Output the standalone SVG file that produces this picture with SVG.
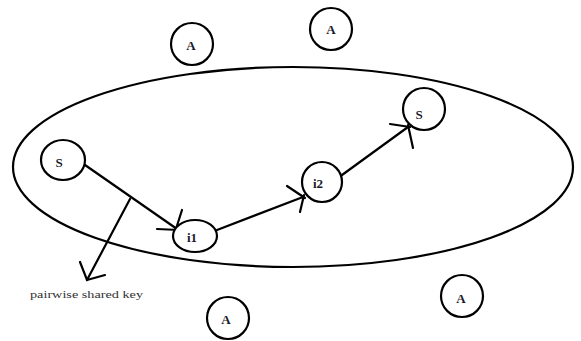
<svg xmlns="http://www.w3.org/2000/svg" width="581" height="341" viewBox="0 0 581 341">
  <style>
    .node { fill: #fff; stroke: #000; stroke-width: 2.2; }
    .lbl { font-family: "Liberation Serif", "Times New Roman", serif; font-weight: bold; font-size: 13px; fill: #1a1a2a; text-anchor: middle; dominant-baseline: central; }
    .edge { fill: none; stroke: #000; stroke-width: 2.2; stroke-linecap: round; }
    .note { font-family: "Liberation Serif", "Times New Roman", serif; font-size: 11px; fill: #333; }
  </style>
  <rect width="581" height="341" fill="#fff"/>

  <!-- network boundary -->
  <ellipse id="region" cx="293" cy="167" rx="280" ry="100" fill="none" stroke="#000" stroke-width="2.2"/>

  <!-- connectors -->
  <g id="connectors">
    <!-- S -> i1 -->
    <line class="edge" x1="85" y1="165" x2="177" y2="229"/>
    <path class="edge" d="M157,229 L179,230 M182,210 L175,232"/>
    <!-- i1 -> i2 -->
    <line class="edge" x1="217" y1="230" x2="303" y2="197"/>
    <path class="edge" d="M287,186 L305,198 M300,212 L304,195"/>
    <!-- i2 -> S -->
    <line class="edge" x1="342" y1="175" x2="408" y2="127"/>
    <path class="edge" d="M390,124 L410,127 M413,148 L408,125"/>
    <!-- shared key pointer -->
    <line class="edge" x1="130" y1="199" x2="87" y2="280"/>
    <path class="edge" d="M80,262 L87,280 L105,275"/>
  </g>

  <g id="node-a1"><circle class="node" cx="192" cy="44" r="21"/><text class="lbl" x="191" y="45">A</text></g>
  <g id="node-a2"><circle class="node" cx="331" cy="29" r="21"/><text class="lbl" x="331" y="29">A</text></g>
  <g id="node-s-src"><ellipse class="node" cx="63" cy="160" rx="22" ry="20"/><text class="lbl" x="59" y="162">S</text></g>
  <g id="node-i1"><ellipse class="node" cx="195" cy="236" rx="22" ry="16"/><text class="lbl" x="192" y="237">i1</text></g>
  <g id="node-i2"><circle class="node" cx="322" cy="182" r="20"/><text class="lbl" x="318" y="183">i2</text></g>
  <g id="node-s-dst"><circle class="node" cx="424" cy="109" r="21"/><text class="lbl" x="419" y="114">S</text></g>
  <g id="node-a3"><circle class="node" cx="462" cy="296" r="21"/><text class="lbl" x="461" y="298">A</text></g>
  <g id="node-a4"><circle class="node" cx="228" cy="318" r="21"/><text class="lbl" x="226" y="319">A</text></g>

  <text class="note" x="30" y="298" textLength="113" lengthAdjust="spacingAndGlyphs">pairwise shared key</text>
</svg>
